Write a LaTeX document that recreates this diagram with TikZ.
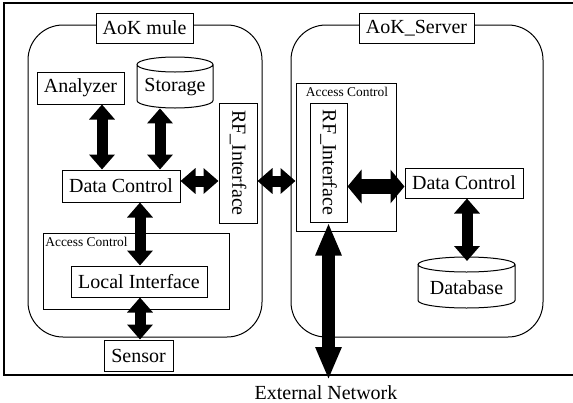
\documentclass[tikz,border=0pt]{standalone}
\usepackage{fontspec}
\setmainfont{Liberation Serif}
\usetikzlibrary{arrows.meta}

% cylinder outline round a node: #1 node, #2 half width,
% #3 / #4 vertical shift of the top / bottom ellipse centres
\newcommand\drawcyl[4]{%
  \draw[outline] ([shift={(-#2,#3)}]#1.center) -- ([shift={(-#2,#4)}]#1.center)
    arc[start angle=180,end angle=360,x radius=#2,y radius=3.75pt]
    -- ([shift={(#2,#3)}]#1.center)
    arc[start angle=0,end angle=360,x radius=#2,y radius=3.75pt];}

\tikzset{
  outline/.style={line width=0.5pt},
  box/.style={draw, outline, inner sep=0pt, fill=white, font=\fontsize{10}{12}\selectfont},
  title/.style={box},
  cylnode/.style={inner sep=0pt, font=\fontsize{10}{12}\selectfont},
  acclabel/.style={inner sep=0pt, font=\fontsize{6.7}{8}\selectfont},
  container/.style={draw, outline, rounded corners=17.5pt},
  fat/.style={line width=5.5pt,
    {Triangle[width=12.5pt,length=7.5pt]}-{Triangle[width=12.5pt,length=7.5pt]}},
  fatwide/.style={line width=7.5pt,
    {Triangle[width=16.5pt,length=7pt]}-{Triangle[width=16.5pt,length=7pt]}},
  fatlong/.style={line width=6.5pt,
    {Triangle[width=12pt,length=16.5pt]}-{Triangle[width=12pt,length=16.5pt]}},
}

\begin{document}
\begin{tikzpicture}[x=0.5pt,y=-0.5pt]
\useasboundingbox (0,0) rectangle (573,402);

% outer frame, open on the right
\draw[line width=0.8pt] (573,3) -- (4,3) -- (4,375) -- (573,375);

% containers
\draw[container] (28,25) rectangle (262,337);
\draw[container] (291,25) rectangle (543,337);
\node[title, minimum width=48.5pt, minimum height=15pt] (mule) at (144.5,28) {AoK mule};
\node[title, minimum width=57.5pt, minimum height=15pt] (server) at (416.5,28) {AoK\_Server};

% access control regions
\draw[outline] (43,233) rectangle (229,309);
\node[acclabel, anchor=west] (accl) at (45,242) {Access Control};
\node[draw, outline, inner sep=0pt, minimum width=50pt, minimum height=74pt] (acr) at (346,157) {};
\node[acclabel] (accrlabel) at (347,92) {Access Control};

% mule components
\node[box, minimum width=43.5pt, minimum height=16pt] (analyzer) at (80.5,88) {Analyzer};
\node[cylnode, minimum width=38pt, minimum height=21pt] (storage) at (175,87) {Storage};
\drawcyl{storage}{19pt}{11.25pt}{-6.75pt}
\node[box, minimum width=59pt, minimum height=16pt] (dcl) at (121,186) {Data Control};
\node[box, minimum width=19pt, minimum height=60pt] (rfl) at (238,163) {};
\node[rotate=-90, inner sep=0pt, font=\fontsize{10}{12}\selectfont] (rfltext) at (rfl.center) {RF\_Interface};
\node[box, minimum width=68pt, minimum height=15.5pt] (local) at (139,281.5) {Local Interface};
\node[box, minimum width=34.5pt, minimum height=15.5pt] (sensor) at (138.5,355.5) {Sensor};

% server components
\node[box, minimum width=18.5pt, minimum height=59.5pt] (rfr) at (328.5,162.5) {};
\node[rotate=-90, inner sep=0pt, font=\fontsize{10}{12}\selectfont] (rfrtext) at (rfr.center) {RF\_Interface};
\node[box, minimum width=59pt, minimum height=15pt] (dcr) at (464,183) {Data Control};
\node[cylnode, minimum width=48.5pt, minimum height=20pt] (database) at (466.5,288) {Database};
\drawcyl{database}{24.25pt}{11.75pt}{-6.25pt}

\node[inner sep=0pt, font=\fontsize{10}{12}\selectfont] (ext) at (326,393) {External Network};
\coordinate (netend) at (328.5,380);

% data paths
\draw[fat] ([xshift=10.75pt]analyzer.south) -- ([xshift=10.75pt]analyzer.south |- dcl.north);
\draw[fat] ([xshift=-7.5pt]storage.south) -- ([xshift=-7.5pt]storage.south |- dcl.north);
\draw[fat] ([yshift=2.5pt]dcl.east) -- ([yshift=2.5pt]dcl.east -| rfl.west);
\draw[fat] ([yshift=-9pt]rfl.east) -- ([yshift=-9pt]rfl.east -| acr.west);
\draw[fat] ([xshift=9.5pt]dcl.south) -- ([xshift=9.5pt]dcl.south |- local.north);
\draw[fat] ([xshift=0.5pt]local.south) -- ([xshift=0.5pt]local.south |- sensor.north);
\draw[fatwide] ([yshift=-12pt]rfr.east) -- ([yshift=-12pt]rfr.east -| dcr.west);
\draw[fat] ([xshift=1.5pt]dcr.south) -- ([xshift=1.5pt,yshift=13.5pt]dcr.south |- database.center);
\draw[fatlong] (rfr.south) -- (netend);
\end{tikzpicture}
\end{document}
